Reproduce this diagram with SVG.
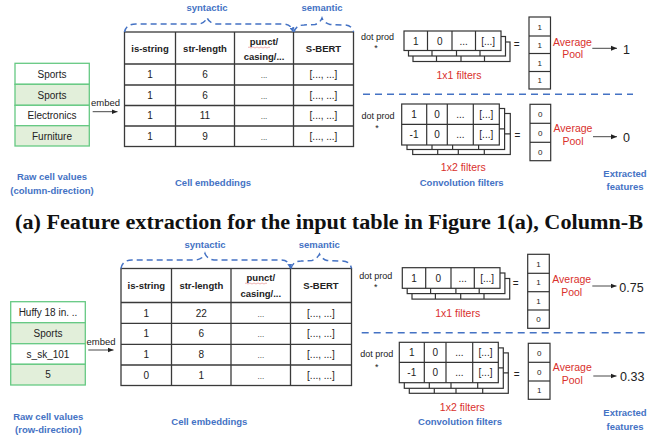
<svg xmlns="http://www.w3.org/2000/svg" width="662" height="438" viewBox="0 0 662 438">
<defs>
<style>
text{font-family:"Liberation Sans",Arial,sans-serif;fill:#222}
.hd{font-size:9.5px;font-weight:bold;text-anchor:middle}
.cv{font-size:10px;text-anchor:middle}
.sm{font-size:8px;text-anchor:middle}
.blu{fill:#4472c4;font-weight:bold;font-size:9.5px;text-anchor:middle}
.red{fill:#d9302c;font-size:10.5px;text-anchor:middle}
.out{font-size:12.5px}
.tb{fill:#fff;stroke:#3a3a3a;stroke-width:1.3}
.ln{stroke:#3a3a3a;stroke-width:1.3}
.fr{fill:#fff;stroke:#333;stroke-width:1.2}
.fl{stroke:#333;stroke-width:1.2}
.cw{fill:#fff;stroke:#66c983;stroke-width:1.3}
.cg{fill:#e2efda;stroke:#66c983;stroke-width:1.3}
.br{fill:none;stroke:#4472c4;stroke-width:1.5;stroke-dasharray:6 4}
.sep{stroke:#4472c4;stroke-width:1.5;stroke-dasharray:7 5}
.ar{stroke:#333;stroke-width:0.9;fill:none}
.sq{stroke:#e8a0a0;stroke-width:0.8;fill:none}
</style>
<marker id="ah" viewBox="0 0 6 6" refX="6" refY="3" markerWidth="6" markerHeight="6" orient="auto" markerUnits="userSpaceOnUse"><path d="M0,0.5 L6,3 L0,5.5 Z" fill="#222"/></marker>
<marker id="bh" viewBox="0 0 6 6" refX="5" refY="3" markerWidth="5" markerHeight="5" orient="auto" markerUnits="userSpaceOnUse"><path d="M0,0 L6,3 L0,6 Z" fill="#4472c4"/></marker>
</defs>
<rect width="662" height="438" fill="#fff"/>

<!-- ================= TOP PANEL ================= -->
<g id="raw-top">
<rect class="cw" x="15" y="63.3" width="74.3" height="21"/>
<rect class="cg" x="15" y="84.3" width="74.3" height="21"/>
<rect class="cw" x="15" y="105.3" width="74.3" height="20.4"/>
<rect class="cg" x="15" y="125.7" width="74.3" height="20.3"/>
<text class="cv" x="52" y="77.5">Sports</text>
<text class="cv" x="52" y="98.5">Sports</text>
<text class="cv" x="52" y="119">Electronics</text>
<text class="cv" x="52" y="139.5">Furniture</text>
<text class="blu" x="52" y="179.5">Raw cell values</text>
<text class="blu" x="52" y="194">(column-direction)</text>
</g>

<g id="emb-top">
<rect class="tb" x="124.5" y="32" width="229" height="114.5"/>
<line class="ln" x1="175.5" y1="32" x2="175.5" y2="146.5"/>
<line class="ln" x1="234.5" y1="32" x2="234.5" y2="146.5"/>
<line class="ln" x1="293.5" y1="32" x2="293.5" y2="146.5"/>
<line class="ln" x1="124.5" y1="64" x2="353.5" y2="64"/>
<line class="ln" x1="124.5" y1="85" x2="353.5" y2="85"/>
<line class="ln" x1="124.5" y1="105.5" x2="353.5" y2="105.5"/>
<line class="ln" x1="124.5" y1="126" x2="353.5" y2="126"/>
<text class="hd" x="150" y="51.5">is-string</text>
<text class="hd" x="205" y="51.5">str-length</text>
<text class="hd" x="264" y="45">punct/</text>
<path class="sq" d="M248,47.5 q1,-1 2,0 t2,0 t2,0 t2,0 t2,0 t2,0 t2,0 t2,0 t2,0 t2,0 t2,0"/>
<text class="hd" x="264" y="59.5">casing/...</text>
<text class="hd" x="323.5" y="51.5">S-BERT</text>
<text class="cv" x="150" y="78">1</text><text class="cv" x="205" y="78">6</text><text class="sm" x="264" y="78">...</text><text class="cv" x="323.5" y="78">[..., ...]</text>
<text class="cv" x="150" y="98.7">1</text><text class="cv" x="205" y="98.7">6</text><text class="sm" x="264" y="98.7">...</text><text class="cv" x="323.5" y="98.7">[..., ...]</text>
<text class="cv" x="150" y="119.2">1</text><text class="cv" x="205" y="119.2">11</text><text class="sm" x="264" y="119.2">...</text><text class="cv" x="323.5" y="119.2">[..., ...]</text>
<text class="cv" x="150" y="139.7">1</text><text class="cv" x="205" y="139.7">9</text><text class="sm" x="264" y="139.7">...</text><text class="cv" x="323.5" y="139.7">[..., ...]</text>
<text class="blu" x="213" y="186">Cell embeddings</text>
</g>

<g id="labels-top">
<text class="blu" x="207" y="10.5">syntactic</text>
<text class="blu" x="322" y="10.5">semantic</text>
</g>

<g id="f11-top">
<rect class="fr" x="413" y="42" width="97" height="19.5"/>
<line class="fl" x1="436.5" y1="42" x2="436.5" y2="61.5"/><line class="fl" x1="461" y1="42" x2="461" y2="61.5"/><line class="fl" x1="484.5" y1="42" x2="484.5" y2="61.5"/>
<rect class="fr" x="408.5" y="36.5" width="97" height="19.5"/>
<line class="fl" x1="432" y1="36.5" x2="432" y2="56"/><line class="fl" x1="456.5" y1="36.5" x2="456.5" y2="56"/><line class="fl" x1="480" y1="36.5" x2="480" y2="56"/>
<rect class="fr" x="404" y="31" width="97" height="19.5"/>
<line class="fl" x1="427.5" y1="31" x2="427.5" y2="50.5"/><line class="fl" x1="452" y1="31" x2="452" y2="50.5"/><line class="fl" x1="475.5" y1="31" x2="475.5" y2="50.5"/>
<text class="cv" x="415.7" y="44.5">1</text><text class="cv" x="439.7" y="44.5">0</text><text class="cv" x="463.7" y="44.5">...</text><text class="cv" x="488.2" y="44.5">[...]</text>
<text class="red" x="459" y="79">1x1 filters</text>
</g>

<g id="out11-top">
<rect class="fr" x="529" y="17" width="21.5" height="72"/>
<line class="fl" x1="529" y1="36" x2="550.5" y2="36"/><line class="fl" x1="529" y1="53.5" x2="550.5" y2="53.5"/><line class="fl" x1="529" y1="71.5" x2="550.5" y2="71.5"/>
<text class="sm" x="539.7" y="29.5">1</text><text class="sm" x="539.7" y="47.5">1</text><text class="sm" x="539.7" y="65.5">1</text><text class="sm" x="539.7" y="83">1</text>
</g>

<g id="pool11-top">
<text class="red" x="572.5" y="45.5">Average</text>
<text class="red" x="572.7" y="58">Pool</text>
<text class="out" x="623" y="53.5">1</text>
</g>

<g id="f12-top">
<rect class="fr" x="412.7" y="113.5" width="97.6" height="41"/>
<line class="fl" x1="412.7" y1="133.8" x2="510.3" y2="133.8"/>
<line class="fl" x1="437.7" y1="113.5" x2="437.7" y2="154.5"/><line class="fl" x1="458.3" y1="113.5" x2="458.3" y2="154.5"/><line class="fl" x1="484.3" y1="113.5" x2="484.3" y2="154.5"/>
<rect class="fr" x="407" y="108.5" width="97.6" height="41"/>
<line class="fl" x1="407" y1="128.8" x2="504.6" y2="128.8"/>
<line class="fl" x1="432" y1="108.5" x2="432" y2="149.5"/><line class="fl" x1="452.6" y1="108.5" x2="452.6" y2="149.5"/><line class="fl" x1="478.6" y1="108.5" x2="478.6" y2="149.5"/>
<rect class="fr" x="401.7" y="104" width="97.6" height="41"/>
<line class="fl" x1="401.7" y1="124.3" x2="499.3" y2="124.3"/>
<line class="fl" x1="426.7" y1="104" x2="426.7" y2="145"/><line class="fl" x1="447.3" y1="104" x2="447.3" y2="145"/><line class="fl" x1="473.3" y1="104" x2="473.3" y2="145"/>
<text class="cv" x="414" y="118">1</text><text class="cv" x="437" y="118">0</text><text class="cv" x="460.3" y="118">...</text><text class="cv" x="486.3" y="118">[...]</text>
<text class="cv" x="414" y="138.3">-1</text><text class="cv" x="437" y="138.3">0</text><text class="cv" x="460.3" y="138.3">...</text><text class="cv" x="486.3" y="138.3">[...]</text>
<text class="red" x="463.3" y="170.5">1x2 filters</text>
<text class="blu" x="461.7" y="186">Convolution filters</text>
</g>

<g id="out12-top">
<rect class="fr" x="530" y="104.3" width="20.7" height="56.4"/>
<line class="fl" x1="530" y1="123.3" x2="550.7" y2="123.3"/><line class="fl" x1="530" y1="142.3" x2="550.7" y2="142.3"/>
<text class="sm" x="540.3" y="116.8">0</text><text class="sm" x="540.3" y="135.8">0</text><text class="sm" x="540.3" y="154.5">0</text>
</g>

<g id="pool12-top">
<text class="red" x="573" y="132">Average</text>
<text class="red" x="573" y="144.5">Pool</text>
<text class="out" x="623" y="141.7">0</text>
</g>

<g id="misc-top">
<text class="cv" x="105.5" y="106" style="font-size:9.5px">embed</text>
<text class="cv" x="377.5" y="39.5" style="font-size:9px">dot prod</text>
<text class="cv" x="376" y="51" style="font-size:9px">*</text>
<text class="cv" x="516.7" y="48">=</text>
<text class="cv" x="378" y="118.5" style="font-size:9px">dot prod</text>
<text class="cv" x="377" y="130.5" style="font-size:9px">*</text>
<text class="cv" x="517.3" y="138.5">=</text>
<text class="blu" x="625" y="176.5">Extracted</text>
<text class="blu" x="625" y="190">features</text>
</g>

<!-- title -->
<text x="15" y="229" style="font-family:'Liberation Serif','Times New Roman',serif;font-weight:bold;font-size:20px;fill:#111" textLength="628" lengthAdjust="spacingAndGlyphs">(a) Feature extraction for the input table in Figure 1(a), Column-B</text>

<!-- ================= BOTTOM PANEL ================= -->
<g id="raw-bot">
<rect class="cw" x="10.7" y="301.7" width="74.6" height="21"/>
<rect class="cg" x="10.7" y="322.7" width="74.6" height="21"/>
<rect class="cw" x="10.7" y="343.7" width="74.6" height="20.6"/>
<rect class="cg" x="10.7" y="364.3" width="74.6" height="20.7"/>
<text class="cv" x="48" y="316">Huffy 18 in. ..</text>
<text class="cv" x="48" y="337">Sports</text>
<text class="cv" x="48" y="357.5">s_sk_101</text>
<text class="cv" x="48" y="378">5</text>
<text class="blu" x="48.3" y="419.5">Raw cell values</text>
<text class="blu" x="48.3" y="433">(row-direction)</text>
</g>

<g id="emb-bot">
<rect class="tb" x="121" y="268.5" width="230.5" height="117"/>
<line class="ln" x1="171.5" y1="268.5" x2="171.5" y2="385.5"/>
<line class="ln" x1="231" y1="268.5" x2="231" y2="385.5"/>
<line class="ln" x1="290.5" y1="268.5" x2="290.5" y2="385.5"/>
<line class="ln" x1="121" y1="302.5" x2="351.5" y2="302.5"/>
<line class="ln" x1="121" y1="323.3" x2="351.5" y2="323.3"/>
<line class="ln" x1="121" y1="344.3" x2="351.5" y2="344.3"/>
<line class="ln" x1="121" y1="365" x2="351.5" y2="365"/>
<text class="hd" x="146.3" y="289">is-string</text>
<text class="hd" x="201.3" y="289">str-length</text>
<text class="hd" x="260.8" y="281">punct/</text>
<path class="sq" d="M245,283.5 q1,-1 2,0 t2,0 t2,0 t2,0 t2,0 t2,0 t2,0 t2,0 t2,0 t2,0 t2,0"/>
<text class="hd" x="260.8" y="296.5">casing/...</text>
<text class="hd" x="321" y="289">S-BERT</text>
<text class="cv" x="146.3" y="316.5">1</text><text class="cv" x="201.3" y="316.5">22</text><text class="sm" x="260.8" y="316.5">...</text><text class="cv" x="321" y="316.5">[..., ...]</text>
<text class="cv" x="146.3" y="337.3">1</text><text class="cv" x="201.3" y="337.3">6</text><text class="sm" x="260.8" y="337.3">...</text><text class="cv" x="321" y="337.3">[..., ...]</text>
<text class="cv" x="146.3" y="358">1</text><text class="cv" x="201.3" y="358">8</text><text class="sm" x="260.8" y="358">...</text><text class="cv" x="321" y="358">[..., ...]</text>
<text class="cv" x="146.3" y="378.7">0</text><text class="cv" x="201.3" y="378.7">1</text><text class="sm" x="260.8" y="378.7">...</text><text class="cv" x="321" y="378.7">[..., ...]</text>
<text class="blu" x="209.3" y="425">Cell embeddings</text>
</g>

<g id="labels-bot">
<text class="blu" x="205" y="247.8">syntactic</text>
<text class="blu" x="319.3" y="247.8">semantic</text>
</g>

<g id="f11-bot">
<rect class="fr" x="412" y="278.5" width="97.7" height="20.6"/>
<line class="fl" x1="435.4" y1="278.5" x2="435.4" y2="299.1"/><line class="fl" x1="460.7" y1="278.5" x2="460.7" y2="299.1"/><line class="fl" x1="484" y1="278.5" x2="484" y2="299.1"/>
<rect class="fr" x="407.2" y="273" width="97.7" height="20.6"/>
<line class="fl" x1="430.6" y1="273" x2="430.6" y2="293.6"/><line class="fl" x1="455.9" y1="273" x2="455.9" y2="293.6"/><line class="fl" x1="479.2" y1="273" x2="479.2" y2="293.6"/>
<rect class="fr" x="402.3" y="267.7" width="97.7" height="20.6"/>
<line class="fl" x1="425.7" y1="267.7" x2="425.7" y2="288.3"/><line class="fl" x1="451" y1="267.7" x2="451" y2="288.3"/><line class="fl" x1="474.3" y1="267.7" x2="474.3" y2="288.3"/>
<text class="cv" x="414" y="281.5">1</text><text class="cv" x="438.3" y="281.5">0</text><text class="cv" x="462.7" y="281.5">...</text><text class="cv" x="487.2" y="281.5">[...]</text>
<text class="red" x="457.7" y="317">1x1 filters</text>
</g>

<g id="out11-bot">
<rect class="fr" x="527.7" y="254.3" width="21.6" height="74"/>
<line class="fl" x1="527.7" y1="273.3" x2="549.3" y2="273.3"/><line class="fl" x1="527.7" y1="291.7" x2="549.3" y2="291.7"/><line class="fl" x1="527.7" y1="310" x2="549.3" y2="310"/>
<text class="sm" x="538.5" y="266.7">1</text><text class="sm" x="538.5" y="285.4">1</text><text class="sm" x="538.5" y="303.7">1</text><text class="sm" x="538.5" y="322">0</text>
</g>

<g id="pool11-bot">
<text class="red" x="571.7" y="283">Average</text>
<text class="red" x="571.7" y="295.7">Pool</text>
<text class="out" x="619.3" y="291.7">0.75</text>
</g>

<g id="f12-bot">
<rect class="fr" x="409.3" y="352.9" width="99" height="40.4"/>
<line class="fl" x1="409.3" y1="372.9" x2="508.3" y2="372.9"/>
<line class="fl" x1="434.3" y1="352.9" x2="434.3" y2="393.3"/><line class="fl" x1="456" y1="352.9" x2="456" y2="393.3"/><line class="fl" x1="482.7" y1="352.9" x2="482.7" y2="393.3"/>
<rect class="fr" x="404.3" y="347.9" width="99" height="40.4"/>
<line class="fl" x1="404.3" y1="367.9" x2="503.3" y2="367.9"/>
<line class="fl" x1="429.3" y1="347.9" x2="429.3" y2="388.3"/><line class="fl" x1="451" y1="347.9" x2="451" y2="388.3"/><line class="fl" x1="477.7" y1="347.9" x2="477.7" y2="388.3"/>
<rect class="fr" x="399.3" y="342.3" width="99" height="40.4"/>
<line class="fl" x1="399.3" y1="362.3" x2="498.3" y2="362.3"/>
<line class="fl" x1="424.3" y1="342.3" x2="424.3" y2="382.7"/><line class="fl" x1="446" y1="342.3" x2="446" y2="382.7"/><line class="fl" x1="472.7" y1="342.3" x2="472.7" y2="382.7"/>
<text class="cv" x="411.8" y="356">1</text><text class="cv" x="435.2" y="356">0</text><text class="cv" x="459.3" y="356">...</text><text class="cv" x="485.5" y="356">[...]</text>
<text class="cv" x="411.8" y="376">-1</text><text class="cv" x="435.2" y="376">0</text><text class="cv" x="459.3" y="376">...</text><text class="cv" x="485.5" y="376">[...]</text>
<text class="red" x="462.3" y="410.5">1x2 filters</text>
<text class="blu" x="460" y="425">Convolution filters</text>
</g>

<g id="out12-bot">
<rect class="fr" x="528.3" y="343.3" width="21.7" height="56"/>
<line class="fl" x1="528.3" y1="362.3" x2="550" y2="362.3"/><line class="fl" x1="528.3" y1="381" x2="550" y2="381"/>
<text class="sm" x="539.2" y="355.7">0</text><text class="sm" x="539.2" y="374.5">0</text><text class="sm" x="539.2" y="393">1</text>
</g>

<g id="pool12-bot">
<text class="red" x="572.3" y="370.5">Average</text>
<text class="red" x="572.3" y="383.5">Pool</text>
<text class="out" x="620" y="380.5">0.33</text>
</g>

<g id="misc-bot">
<text class="cv" x="101" y="345" style="font-size:9.5px">embed</text>
<text class="cv" x="375.7" y="278.5" style="font-size:9px">dot prod</text>
<text class="cv" x="375.7" y="289.5" style="font-size:9px">*</text>
<text class="cv" x="515.7" y="287">=</text>
<text class="cv" x="376.7" y="356.8" style="font-size:9px">dot prod</text>
<text class="cv" x="376.7" y="369.5" style="font-size:9px">*</text>
<text class="cv" x="516.7" y="377.5">=</text>
<text class="blu" x="625" y="415.5">Extracted</text>
<text class="blu" x="625" y="429.5">features</text>
</g>

<!-- connectors -->
<g id="connectors">
<path class="br" d="M124.5,32 Q126,24 136,24 L199,24 Q205,23 207,17.5 Q209,23 216,24 L283,24 Q291,24 293,31.5" marker-end="url(#bh)"/>
<path class="br" d="M294,32 Q296,25 304,25 L315,24.5 Q320,23 322,18 Q324,23 330,24.5 L344,25 Q352,25 353.5,32"/>
<path class="br" d="M121,268.5 Q122.5,260 132,260 L196,260 Q203,259 205,253.5 Q207,259 214,260 L281,260 Q289,260 290.5,268" marker-end="url(#bh)"/>
<path class="br" d="M291,268.5 Q293,261 301,261 L312,260.5 Q317,259 319.5,254 Q322,259 327,260.5 L342,261 Q350,261 351.5,268.5"/>
<line class="sep" x1="363" y1="94.3" x2="633" y2="94.3"/>
<line class="sep" x1="361.7" y1="332.7" x2="648" y2="332.7"/>
<line class="ar" x1="92.7" y1="111.7" x2="117.5" y2="111.7" marker-end="url(#ah)"/>
<line class="ar" x1="88.3" y1="350" x2="113.5" y2="350" marker-end="url(#ah)"/>
<line class="ar" x1="592.3" y1="48.3" x2="617" y2="48.3" marker-end="url(#ah)"/>
<line class="ar" x1="593" y1="136.7" x2="617" y2="136.7" marker-end="url(#ah)"/>
<line class="ar" x1="592.3" y1="286" x2="616.5" y2="286" marker-end="url(#ah)"/>
<line class="ar" x1="593.3" y1="376" x2="616.5" y2="376" marker-end="url(#ah)"/>
</g>
</svg>
